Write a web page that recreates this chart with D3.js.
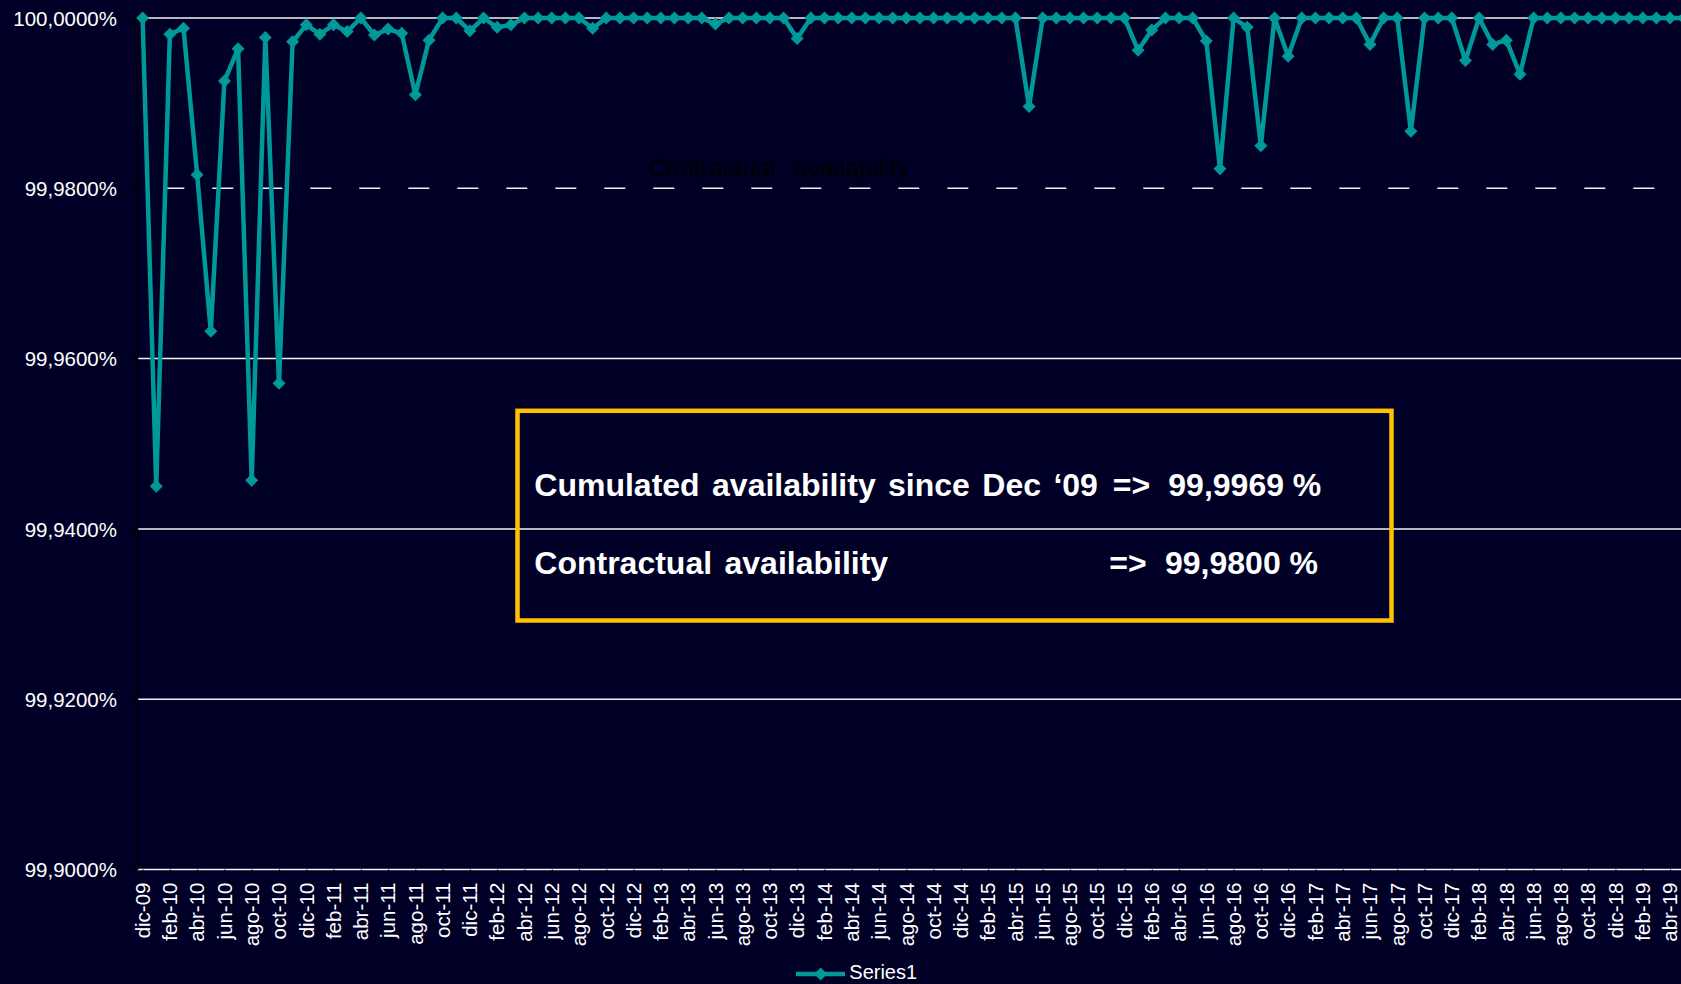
<!DOCTYPE html>
<html>
<head>
<meta charset="utf-8">
<script src="https://cdn.jsdelivr.net/npm/d3@7"></script>
<style>
  body { margin: 0; background: #000026; overflow: hidden; }
  text { font-family: 'Liberation Sans', Arial, sans-serif; }
</style>
</head>
<body>
<div class="canvas"></div>
<script>
// month names used on the category axis (spanish)
const monthNames = ['ene', 'feb', 'mar', 'abr', 'may', 'jun', 'jul', 'ago', 'sep', 'oct', 'nov', 'dic'];

// categories: dic-09 .. may-19
const months = ['dic-09'];
for (let yr = 10; yr <= 19; yr++) {
    monthNames.forEach((m, i) => {
        if (yr === 19 && i > 4) return;
        months.push(`${m}-${yr}`);
    });
}

// monthly availability (%)
const availability = [
    100.0000, 99.9450, 99.9981, 99.9988, 99.9816, 99.9632, 99.9926, 99.9964, 99.9457, 99.9977, 99.9571, 99.9972,
    99.9992, 99.9981, 99.9992, 99.9984, 100.0000, 99.9980, 99.9987, 99.9982, 99.9910, 99.9974, 100.0000, 100.0000,
    99.9985, 100.0000, 99.9989, 99.9992, 100.0000, 100.0000, 100.0000, 100.0000, 100.0000, 99.9988, 100.0000, 100.0000,
    100.0000, 100.0000, 100.0000, 100.0000, 100.0000, 100.0000, 99.9993, 100.0000, 100.0000, 100.0000, 100.0000, 100.0000,
    99.9976, 100.0000, 100.0000, 100.0000, 100.0000, 100.0000, 100.0000, 100.0000, 100.0000, 100.0000, 100.0000, 100.0000,
    100.0000, 100.0000, 100.0000, 100.0000, 100.0000, 99.9896, 100.0000, 100.0000, 100.0000, 100.0000, 100.0000, 100.0000,
    100.0000, 99.9962, 99.9986, 100.0000, 100.0000, 100.0000, 99.9973, 99.9823, 100.0000, 99.9989, 99.9850, 100.0000,
    99.9955, 100.0000, 100.0000, 100.0000, 100.0000, 100.0000, 99.9969, 100.0000, 100.0000, 99.9867, 100.0000, 100.0000,
    100.0000, 99.9950, 100.0000, 99.9969, 99.9974, 99.9934, 100.0000, 100.0000, 100.0000, 100.0000, 100.0000, 100.0000,
    100.0000, 100.0000, 100.0000, 100.0000, 100.0000, 100.0000
];

// y tick values and reference values
const yTicks = [99.90, 99.92, 99.94, 99.96, 99.98, 100.00];
const contractual = 99.98;
const cumulated = 99.9969;

const width = 1681;
const height = 984;
const teal = '#009999';
const grid = '#f2f2f2';

// comma as decimal separator
const fmt = d3.formatLocale({decimal: ',', thousands: '.', grouping: [3], currency: ['', ' €']}).format('.4f');

// select the svg container
const svg = d3.select('.canvas')
    .append('svg')
        .attr('width', width)
        .attr('height', height)
        .style('display', 'block')
        .style('background', '#000026');

const axisX = 137;
const step = 13.6375;

// scales
const y = d3.scaleLinear()
    .domain([99.90, 100])
    .range([869.5, 18]);

const x = d3.scalePoint()
    .domain(months)
    .range([142.6, 142.6 + step * (months.length - 1)]);

// gridlines (99,98 is drawn as the dashed contractual line)
svg.append('g')
    .selectAll('line')
    .data(yTicks.filter(d => d !== contractual))
    .join('line')
        .attr('x1', axisX)
        .attr('x2', width)
        .attr('y1', d => y(d))
        .attr('y2', d => y(d))
        .attr('stroke', grid)
        .attr('stroke-width', 1.5);

// contractual availability line
svg.append('line')
    .attr('x1', axisX)
    .attr('x2', width)
    .attr('y1', y(contractual))
    .attr('y2', y(contractual))
    .attr('stroke', grid)
    .attr('stroke-width', 1.5)
    .attr('stroke-dasharray', '21 28')
    .attr('stroke-dashoffset', 22.7);

svg.append('text')
    .attr('x', 648.3)
    .attr('y', 176.7)
    .attr('fill', '#000')
    .attr('font-size', 25)
    .attr('word-spacing', 2)
    .style('white-space', 'pre')
    .text('Contractual  availability');

// axes
const yAxisGroup = svg.append('g')
    .attr('transform', `translate(${axisX}, 0)`);
const xAxisGroup = svg.append('g')
    .attr('transform', `translate(0, ${y(99.90)})`);

const yAxis = d3.axisLeft(y)
    .tickValues(yTicks)
    .tickFormat(d => fmt(d) + '%')
    .tickSizeInner(5)
    .tickSizeOuter(0)
    .tickPadding(15);

const xAxis = d3.axisBottom(x)
    .tickValues(months.filter((d, i) => i % 2 === 0))
    .tickSizeInner(5)
    .tickSizeOuter(0);

yAxisGroup.call(yAxis);
xAxisGroup.call(xAxis);

yAxisGroup.select('.domain').attr('stroke', '#000').attr('stroke-width', 1.5);
yAxisGroup.selectAll('.tick line').attr('stroke', '#000').attr('stroke-width', 1.5);
yAxisGroup.selectAll('text')
    .attr('fill', '#fff')
    .attr('font-size', 20.5)
    .attr('font-family', "'Liberation Sans', Arial, sans-serif")
    .attr('dy', '0.36em');

xAxisGroup.select('.domain').remove();
xAxisGroup.selectAll('.tick line').attr('stroke', '#000');
xAxisGroup.selectAll('text')
    .attr('transform', 'rotate(-90)')
    .attr('text-anchor', 'end')
    .attr('x', -13)
    .attr('y', 0)
    .attr('dy', '0.33em')
    .attr('fill', '#fff')
    .attr('font-size', 20.5)
    .attr('font-family', "'Liberation Sans', Arial, sans-serif");

// summary box
svg.append('rect')
    .attr('x', 517.5)
    .attr('y', 410.8)
    .attr('width', 874)
    .attr('height', 209.7)
    .attr('fill', 'none')
    .attr('stroke', '#ffc000')
    .attr('stroke-width', 4.5);

const boxText = svg.append('g')
    .attr('fill', '#fff')
    .attr('font-size', 32)
    .attr('font-weight', 'bold')
    .style('white-space', 'pre');

boxText.append('text').attr('x', 534.3).attr('y', 496).attr('word-spacing', 3.5)
    .text('Cumulated availability since Dec \u201809');
boxText.append('text').attr('x', 1112.7).attr('y', 496).text('=>');
boxText.append('text').attr('x', 1168.3).attr('y', 496).text(fmt(cumulated) + ' %');

boxText.append('text').attr('x', 534.3).attr('y', 574).attr('word-spacing', 3.5)
    .text('Contractual  availability');
boxText.append('text').attr('x', 1109.3).attr('y', 574).text('=>');
boxText.append('text').attr('x', 1165).attr('y', 574).text(fmt(contractual) + ' %');

// series line and markers
const line = d3.line()
    .x((d, i) => x(months[i]))
    .y(d => y(d));

svg.append('path')
    .datum(availability)
    .attr('d', line)
    .attr('fill', 'none')
    .attr('stroke', teal)
    .attr('stroke-width', 4.5)
    .attr('stroke-linejoin', 'round');

const diamond = 'M0,-6.5L6.5,0L0,6.5L-6.5,0Z';

svg.append('g')
    .selectAll('path')
    .data(availability)
    .join('path')
        .attr('d', diamond)
        .attr('transform', (d, i) => `translate(${x(months[i])}, ${y(d)})`)
        .attr('fill', teal);

// legend
const legend = svg.append('g');
legend.append('line')
    .attr('x1', 796)
    .attr('x2', 845)
    .attr('y1', 974)
    .attr('y2', 974)
    .attr('stroke', teal)
    .attr('stroke-width', 4.5);
legend.append('path')
    .attr('d', diamond)
    .attr('transform', 'translate(820.7, 974)')
    .attr('fill', teal);
legend.append('text')
    .attr('x', 849.3)
    .attr('y', 979.3)
    .attr('fill', '#fff')
    .attr('font-size', 20)
    .text('Series1');
</script>
</body>
</html>
